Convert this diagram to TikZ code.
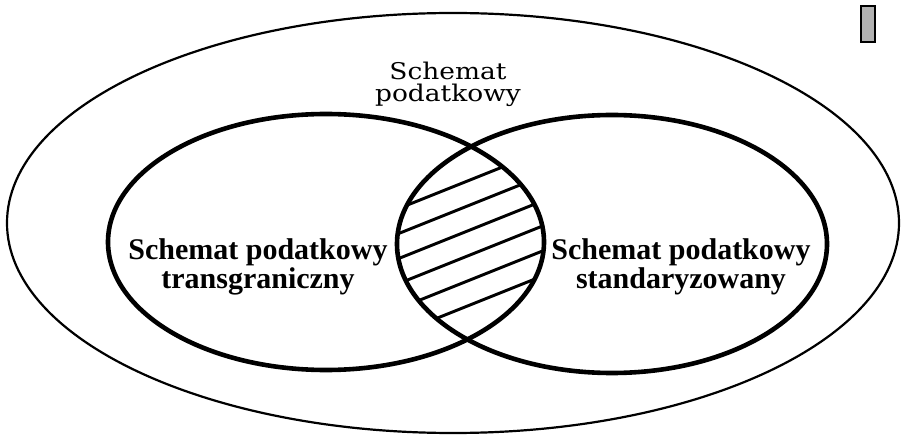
\documentclass[tikz,border=0pt]{standalone}
\usepackage{fontspec}
\setmainfont{Liberation Serif}
\newfontfamily\topfont[FakeStretch=1.15]{DejaVu Serif}
\begin{document}
\begin{tikzpicture}[x=1pt,y=-1pt,
  innerset/.style={line width=4.6pt},
  outerset/.style={line width=2.2pt},
  hatchline/.style={line width=2.9pt},
  toplbl/.style={font=\topfont\fontsize{23}{22}\selectfont, align=center, inner sep=0pt, anchor=base},
  setlbl/.style={font=\fontsize{30}{25}\selectfont\bfseries, align=center, inner sep=0pt, anchor=base}]
\useasboundingbox (0,0) rectangle (902,438);
\fill[white] (0,0) rectangle (902,438);
% outer set
\draw[outerset] (453,223) ellipse [x radius=446, y radius=210];
% hatching of the intersection
\begin{scope}
  \clip (326,242) ellipse [x radius=218, y radius=128];
  \clip (612,244) ellipse [x radius=215, y radius=129];
  \foreach \y in {208,233,258,283,308,333} {
    \draw[hatchline] (380,\y+8) -- (560,\y-64);
  }
\end{scope}
% inner sets
\draw[innerset] (326,242) ellipse [x radius=218, y radius=128];
\draw[innerset] (612,244) ellipse [x radius=215, y radius=129];
% labels (anchor base = baseline of the last line)
\node[toplbl] (outerlbl) at (448,102) {Schemat\\podatkowy};
\node[setlbl] (leftlbl) at (258,288) {Schemat podatkowy\\transgraniczny};
\node[setlbl] (rightlbl) at (681,288) {Schemat podatkowy\\standaryzowany};
% small mark top right
\draw[line width=1.6pt, fill=black!30] (861,6) rectangle (875,42);
\end{tikzpicture}
\end{document}
